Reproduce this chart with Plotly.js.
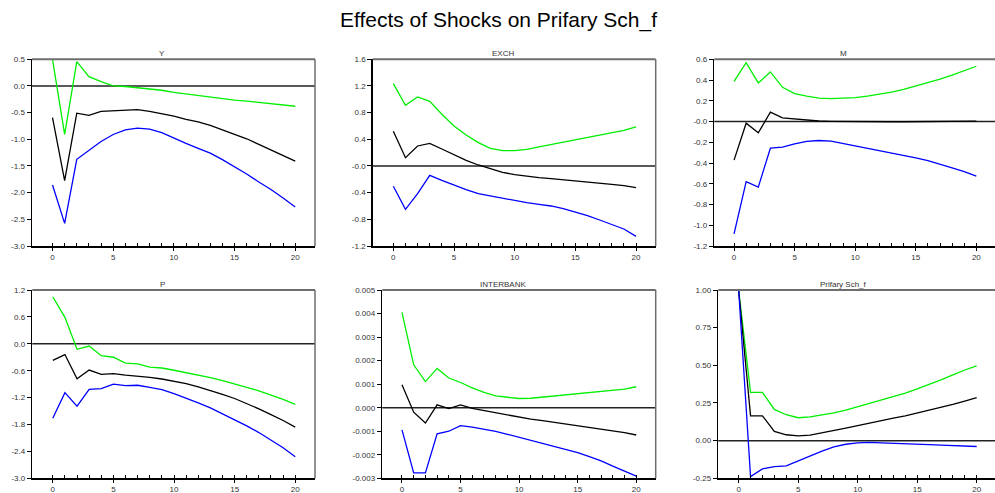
<!DOCTYPE html>
<html>
<head>
<meta charset="utf-8">
<script src="https://cdn.plot.ly/plotly-3.0.1.min.js"></script>
<style>
  html, body { margin: 0; padding: 0; background: #fff; }
  #chart { width: 995px; height: 493px; }
</style>
</head>
<body>
<div id="chart"></div>
<script>
// ---------- data ----------
const steps = [0,1,2,3,4,5,6,7,8,9,10,11,12,13,14,15,16,17,18,19,20];
const xTickVals = [0, 5, 10, 15, 20];
const xTickText = ["0", "5", "10", "15", "20"];

const panelTitles = ["Y", "EXCH", "M", "P", "INTERBANK", "Prifary Sch_f"];

// Y
const yUpper = [0.50,-0.906,0.456,0.175,0.08,0.0,-0.01,-0.03,-0.05,-0.08,-0.12,-0.15,-0.175,-0.20,-0.235,-0.265,-0.285,-0.31,-0.33,-0.355,-0.38];
const yMid   = [-0.594,-1.775,-0.51,-0.55,-0.475,-0.46,-0.456,-0.444,-0.475,-0.52,-0.564,-0.625,-0.675,-0.74,-0.82,-0.90,-0.99,-1.095,-1.20,-1.30,-1.41];
const yLower = [-1.856,-2.575,-1.375,-1.20,-1.04,-0.91,-0.825,-0.79,-0.81,-0.875,-0.98,-1.076,-1.17,-1.26,-1.38,-1.51,-1.65,-1.80,-1.94,-2.10,-2.27];
const yTickVals = [-3.0,-2.5,-2.0,-1.5,-1.0,-0.5,0.0,0.5];
const yTickText = ["-3.0","-2.5","-2.0","-1.5","-1.0","-0.5","0.0","0.5"];

// EXCH
const exUpper = [1.235,0.91,1.035,0.97,0.775,0.60,0.465,0.35,0.265,0.23,0.23,0.25,0.285,0.32,0.355,0.39,0.425,0.46,0.495,0.535,0.585];
const exMid   = [0.52,0.125,0.30,0.34,0.255,0.17,0.085,0.015,-0.045,-0.095,-0.13,-0.155,-0.175,-0.19,-0.205,-0.22,-0.235,-0.255,-0.275,-0.295,-0.325];
const exLower = [-0.305,-0.65,-0.415,-0.14,-0.215,-0.29,-0.355,-0.415,-0.45,-0.49,-0.525,-0.55,-0.575,-0.60,-0.64,-0.69,-0.745,-0.81,-0.875,-0.945,-1.055];
const exTickVals = [-1.2,-0.8,-0.4,0.0,0.4,0.8,1.2,1.6];
const exTickText = ["-1.2","-0.8","-0.4","-0.0","0.4","0.8","1.2","1.6"];

// M
const mUpper = [0.388,0.568,0.372,0.478,0.33,0.27,0.244,0.225,0.221,0.225,0.231,0.244,0.261,0.283,0.309,0.34,0.373,0.409,0.448,0.489,0.533];
const mMid   = [-0.372,-0.016,-0.109,0.09,0.035,0.026,0.012,0.005,0.002,0.0,-0.002,-0.003,-0.003,-0.002,-0.002,-0.001,0.0,0.001,0.002,0.003,0.004];
const mLower = [-1.084,-0.58,-0.632,-0.257,-0.247,-0.215,-0.192,-0.183,-0.189,-0.212,-0.231,-0.253,-0.276,-0.298,-0.324,-0.35,-0.378,-0.41,-0.446,-0.484,-0.526];
const mTickVals = [-1.2,-1.0,-0.8,-0.6,-0.4,-0.2,0.0,0.2,0.4,0.6];
const mTickText = ["-1.2","-1.0","-0.8","-0.6","-0.4","-0.2","-0.0","0.2","0.4","0.6"];

// P
const pUpper = [1.05,0.59,-0.123,-0.05,-0.265,-0.30,-0.43,-0.45,-0.52,-0.54,-0.59,-0.64,-0.70,-0.755,-0.82,-0.89,-0.97,-1.05,-1.14,-1.24,-1.35];
const pMid   = [-0.37,-0.24,-0.78,-0.585,-0.68,-0.665,-0.70,-0.72,-0.75,-0.785,-0.83,-0.89,-0.96,-1.04,-1.13,-1.22,-1.33,-1.45,-1.58,-1.71,-1.86];
const pLower = [-1.66,-1.09,-1.39,-1.015,-1.0,-0.90,-0.935,-0.925,-0.97,-1.02,-1.11,-1.21,-1.32,-1.43,-1.56,-1.69,-1.83,-1.98,-2.15,-2.32,-2.52];
const pTickVals = [-3.0,-2.4,-1.8,-1.2,-0.6,0.0,0.6,1.2];
const pTickText = ["-3.0","-2.4","-1.8","-1.2","-0.6","0.0","0.6","1.2"];

// INTERBANK
const ibUpper = [0.00405,0.00182,0.00111,0.00167,0.00126,0.00107,0.00084,0.00065,0.00050,0.00043,0.00039,0.00040,0.00045,0.00049,0.00053,0.00057,0.00062,0.00067,0.00073,0.00079,0.00089];
const ibMid   = [0.00097,-0.00019,-0.00065,0.00012,-0.00004,0.00012,-0.00003,-0.00012,-0.00023,-0.00033,-0.00042,-0.00049,-0.00055,-0.00062,-0.00069,-0.00076,-0.00083,-0.00090,-0.00097,-0.00106,-0.00116];
const ibLower = [-0.00094,-0.00277,-0.00277,-0.00111,-0.00100,-0.00076,-0.00083,-0.00091,-0.00101,-0.00113,-0.00126,-0.00138,-0.00151,-0.00164,-0.00177,-0.00191,-0.00208,-0.00226,-0.00248,-0.00269,-0.00291];
const ibTickVals = [-0.003,-0.002,-0.001,0.0,0.001,0.002,0.003,0.004,0.005];
const ibTickText = ["-0.003","-0.002","-0.001","0.000","0.001","0.002","0.003","0.004","0.005"];

// Prifary Sch_f
const sUpper = [1.0,0.32,0.32,0.207,0.172,0.152,0.158,0.17,0.185,0.203,0.225,0.245,0.267,0.292,0.316,0.343,0.372,0.403,0.436,0.469,0.496];
const sMid   = [1.0,0.165,0.165,0.061,0.039,0.032,0.036,0.05,0.065,0.083,0.10,0.118,0.134,0.15,0.165,0.183,0.20,0.22,0.24,0.263,0.285];
const sLower = [1.0,-0.239,-0.188,-0.172,-0.168,-0.135,-0.10,-0.07,-0.041,-0.024,-0.015,-0.012,-0.015,-0.017,-0.019,-0.021,-0.026,-0.03,-0.032,-0.035,-0.039];
const sTickVals = [-0.25,0.0,0.25,0.5,0.75,1.0];
const sTickText = ["-0.25","0.00","0.25","0.50","0.75","1.00"];

// ---------- build ----------
const W = 995, H = 493;
const FONT = "Liberation Sans, Arial, Helvetica, sans-serif";
const panels = [
  {up: yUpper,  mid: yMid,  lo: yLower,  tv: yTickVals,  tt: yTickText,  yr: [-3.0, 0.5],     px: [32, 315],    py: [59.3, 246],  xr: [-1.69, 21.63], border: true,  tx: 162},
  {up: exUpper, mid: exMid, lo: exLower, tv: exTickVals, tt: exTickText, yr: [-1.2, 1.6],     px: [372.7, 655.7], py: [59.3, 246], xr: [-1.70, 21.62], border: true,  tx: 503},
  {up: mUpper,  mid: mMid,  lo: mLower,  tv: mTickVals,  tt: mTickText,  yr: [-1.2, 0.6],     px: [714.3, 995], py: [59.3, 246],  xr: [-1.63, 21.54], border: false, tx: 843},
  {up: pUpper,  mid: pMid,  lo: pLower,  tv: pTickVals,  tt: pTickText,  yr: [-3.0, 1.2],     px: [32.3, 315],  py: [290, 478.3], xr: [-1.69, 21.63], border: true,  tx: 162},
  {up: ibUpper, mid: ibMid, lo: ibLower, tv: ibTickVals, tt: ibTickText, yr: [-0.003, 0.005], px: [382.3, 655.7], py: [290, 478.3], xr: [-1.68, 21.66], border: true, tx: 503},
  {up: sUpper,  mid: sMid,  lo: sLower,  tv: sTickVals,  tt: sTickText,  yr: [-0.25, 1.0],    px: [718.3, 995], py: [290, 478.3], xr: [-1.71, 21.54], border: false, tx: 843}
];

const traces = [];
const layout = {
  width: W, height: H,
  margin: {l: 0, r: 0, t: 0, b: 0},
  paper_bgcolor: "#ffffff",
  plot_bgcolor: "#ffffff",
  showlegend: false,
  font: {family: FONT, size: 8, color: "#333"},
  title: {text: "Effects of Shocks on Prifary Sch_f", x: 0.501, xanchor: "center", y: 1 - 19.5 / H, yanchor: "middle",
          font: {family: FONT, size: 21, color: "#000"}},
  annotations: [],
  shapes: []
};

panels.forEach((p, i) => {
  const n = i + 1;
  const xa = n === 1 ? "x" : "x" + n;
  const ya = n === 1 ? "y" : "y" + n;
  const xk = n === 1 ? "xaxis" : "xaxis" + n;
  const yk = n === 1 ? "yaxis" : "yaxis" + n;
  [[p.up, "#00ee00"], [p.mid, "#000000"], [p.lo, "#0000ff"]].forEach(([vals, col]) => {
    traces.push({x: steps, y: vals, xaxis: xa, yaxis: ya, type: "scatter", mode: "lines",
                 line: {color: col, width: 1.3}, hoverinfo: "skip"});
  });
  layout[xk] = {
    domain: [p.px[0] / W, p.px[1] / W], anchor: ya, range: p.xr,
    tickmode: "array", tickvals: xTickVals, ticktext: xTickText,
    ticks: "outside", ticklen: 3, tickwidth: 1, tickcolor: "#000",
    minor: {tickmode: "array", tickvals: steps, ticks: "inside", ticklen: 3, tickwidth: 1, tickcolor: "#000"},
    showline: true, linecolor: "#000", linewidth: 1.5,
    showgrid: false, zeroline: false,
    tickfont: {family: FONT, size: 8, color: "#333"}, fixedrange: true
  };
  layout[yk] = {
    domain: [1 - p.py[1] / H, 1 - p.py[0] / H], anchor: xa, range: p.yr,
    tickmode: "array", tickvals: p.tv, ticktext: p.tt,
    ticks: "outside", ticklen: 4, tickwidth: 1, tickcolor: "#000",
    showline: true, linecolor: "#000", linewidth: 1.5,
    showgrid: false, zeroline: false,
    tickfont: {family: FONT, size: 8, color: "#333"}, fixedrange: true
  };
  // zero reference line
  layout.shapes.push({type: "line", xref: xa + " domain", yref: ya, x0: 0, x1: 1, y0: 0, y1: 0,
                      layer: "below", line: {color: "#222", width: 1.5}});
  // top (gray) border
  layout.shapes.push({type: "line", xref: xa + " domain", yref: ya + " domain", x0: 0, x1: 1, y0: 1, y1: 1,
                      line: {color: "#6e6e6e", width: 2}});
  if (p.border) {
    layout.shapes.push({type: "line", xref: xa + " domain", yref: ya + " domain", x0: 1, x1: 1, y0: 0, y1: 1,
                        line: {color: "#6e6e6e", width: 1.5}});
  }
  layout.annotations.push({text: panelTitles[i], xref: "paper", yref: "paper",
    x: p.tx / W, y: 1 - (p.py[0] - 5.5) / H, xanchor: "center", yanchor: "middle",
    showarrow: false, font: {family: FONT, size: 8, color: "#333"}});
});

Plotly.newPlot("chart", traces, layout, {staticPlot: true, displayModeBar: false});
</script>
</body>
</html>
